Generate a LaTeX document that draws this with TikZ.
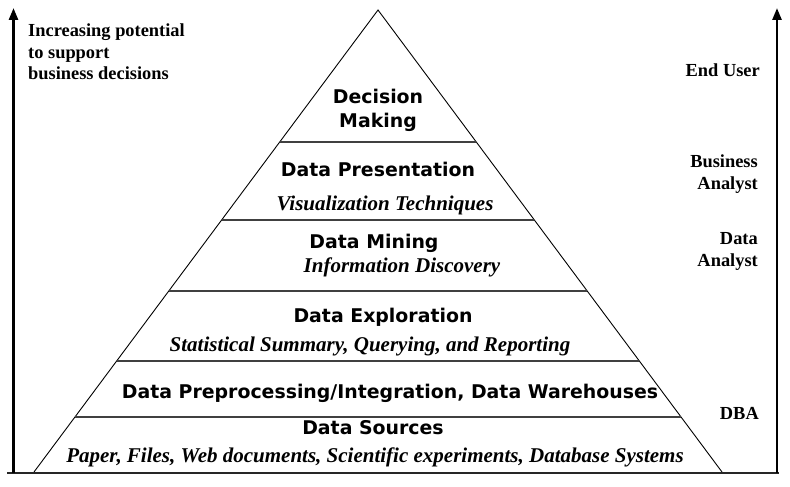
\documentclass[tikz,border=0pt]{standalone}
\usepackage{fontspec}
\setmainfont{Liberation Serif}
\newfontfamily\pyrfont{DejaVu Sans}
\usetikzlibrary{calc,arrows.meta}
\tikzset{
  sidebar/.style={line width=2.6pt,-{Triangle[width=9pt,length=12pt]}},
  tri/.style={line width=0.9pt,black},
  band/.style={line width=1.4pt,black!75},
  base/.style={line width=1.8pt,black!85},
  title/.style={font=\pyrfont\bfseries\fontsize{18.9}{20}\selectfont,inner sep=0pt,anchor=base},
  sub/.style={font=\bfseries\itshape\fontsize{21}{22}\selectfont,inner sep=0pt,anchor=base},
  role/.style={font=\bfseries\fontsize{18.4}{22}\selectfont,inner sep=0pt,align=right,anchor=north east},
  lefttext/.style={font=\bfseries\fontsize{18.4}{21.5}\selectfont,inner sep=0pt,align=left,anchor=north west}
}
\begin{document}
\begin{tikzpicture}[x=1pt,y=-1pt]
\useasboundingbox (0,0) rectangle (790,487);
% triangle
\coordinate (apex) at (378,10);
\coordinate (bl) at (34,472);
\coordinate (br) at (722,472);
\draw[tri] (bl) -- (apex) -- (br);
% band lines
\foreach \yy/\nm in {142/l1,220/l2,291/l3,361/l4,417/l5}{
  \pgfmathsetmacro{\t}{(\yy-10)/462}
  \coordinate (\nm a) at ($(apex)!\t!(bl)$);
  \coordinate (\nm b) at ($(apex)!\t!(br)$);
  \draw[band] (\nm a) -- (\nm b);
}
% arrows and base
\coordinate (lbot) at (13.5,473);
\coordinate (ltop) at (13.5,8);
\coordinate (rbot) at (777,473);
\coordinate (rtop) at (777,8);
\coordinate (b0) at (7,473);
\coordinate (b1) at (779,473);
\draw[base] (b0) -- (b1);
\draw[sidebar] (lbot) -- (ltop);
\draw[sidebar] (rbot) -- (rtop);
% pyramid texts
\node[title] (dm1) at (378,103) {Decision};
\node[title] (dm2) at (378,127) {Making};
\node[title] (dp) at (378,176) {Data Presentation};
\node[sub] (vt) at (385,210) {Visualization Techniques};
\node[title] (dmi) at (374,248) {Data Mining};
\node[sub] (id) at (402,272) {Information Discovery};
\node[title] (de) at (383,322) {Data Exploration};
\node[sub] (ss) at (370,351) {Statistical Summary, Querying, and Reporting};
\node[title] (dpi) at (390,398) {Data Preprocessing/Integration, Data Warehouses};
\node[title] (ds) at (373,434) {Data Sources};
\node[sub] (pf) at (375,462) {Paper, Files, Web documents, Scientific experiments, Database Systems};
% side texts
\node[lefttext] (inc) at (28,24) {Increasing potential\\to support\\business decisions};
\node[role] (eu) at (760,64) {End User};
\node[role] (ba) at (758,155) {Business\\Analyst};
\node[role] (da) at (758,232) {Data\\Analyst};
\node[role] (dba) at (759,407) {DBA};
\end{tikzpicture}
\end{document}
